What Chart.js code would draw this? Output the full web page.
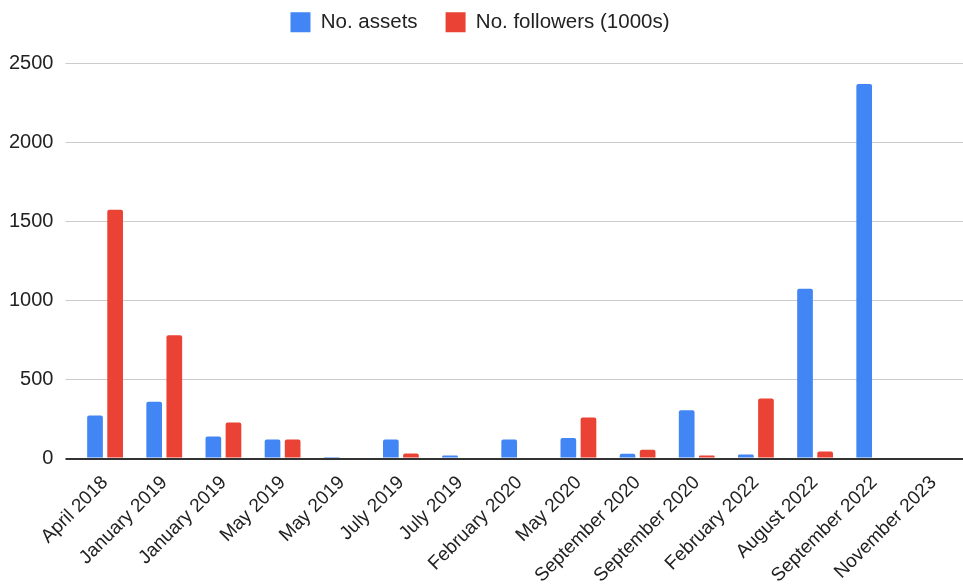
<!DOCTYPE html>
<html>
<head>
<meta charset="utf-8">
<script src="https://cdn.jsdelivr.net/npm/chart.js@4"></script>
<style>
  html, body { margin: 0; padding: 0; background: #fff; }
  #wrap { width: 963px; height: 586px; position: relative; }
</style>
</head>
<body>
<div id="wrap"><canvas id="grafico"></canvas></div>
<script>
// Dados
const categorias = [
    'April 2018', 'January 2019', 'January 2019', 'May 2019', 'May 2019',
    'July 2019', 'July 2019', 'February 2020', 'May 2020', 'September 2020',
    'September 2020', 'February 2022', 'August 2022', 'September 2022', 'November 2023'
];
const assets = [273, 360, 140, 120, 10, 120, 20, 120, 130, 30, 305, 25, 1075, 2370, 0];
const seguidores = [1575, 780, 228, 120, 0, 32, 0, 0, 260, 55, 20, 380, 45, 0, 0];
const ticksY = [0, 500, 1000, 1500, 2000, 2500];

const fonte = "'Liberation Sans', Arial, Helvetica, sans-serif";

// Espaço extra entre a legenda e o gráfico
const espacoLegenda = {
    id: 'espacoLegenda',
    beforeInit(chart) {
        const fitOriginal = chart.legend.fit;
        chart.legend.fit = function () {
            fitOriginal.bind(chart.legend)();
            this.height += 21;
        };
    }
};

function gerarGrafico() {
    const ctx = document.getElementById('grafico').getContext('2d');

    new Chart(ctx, {
        type: 'bar',
        data: {
            labels: categorias,
            datasets: [{
                label: 'No. assets',
                data: assets,
                backgroundColor: '#4285F4',
                borderRadius: 2,
                borderSkipped: 'start'
            }, {
                label: 'No. followers (1000s)',
                data: seguidores,
                backgroundColor: '#EA4335',
                borderRadius: 2,
                borderSkipped: 'start'
            }]
        },
        options: {
            responsive: true,
            maintainAspectRatio: false,
            animation: false,
            categoryPercentage: 0.68,
            barPercentage: 0.78,
            layout: { padding: { top: -16, right: 0, bottom: -6, left: -3 } },
            scales: {
                y: {
                    min: 0,
                    max: 2500,
                    afterBuildTicks: axis => {
                        axis.ticks = ticksY.map(v => ({ value: v }));
                    },
                    border: { display: false },
                    grid: {
                        tickLength: 10,
                        color: c => (c.tick && c.tick.value === 0) ? '#333333' : '#cccccc',
                        lineWidth: c => (c.tick && c.tick.value === 0) ? 2 : 1
                    },
                    ticks: {
                        color: '#222',
                        padding: 12,
                        font: { family: fonte, size: 20 },
                        callback: v => String(v)
                    }
                },
                x: {
                    border: { display: false },
                    grid: { display: false },
                    ticks: {
                        color: '#222',
                        minRotation: 45,
                        maxRotation: 45,
                        autoSkip: false,
                        padding: 5,
                        font: { family: fonte, size: 19 }
                    }
                }
            },
            plugins: {
                legend: {
                    position: 'top',
                    labels: {
                        color: '#222',
                        boxWidth: 20,
                        boxHeight: 20,
                        padding: 28,
                        font: { family: fonte, size: 20.5 }
                    }
                },
                tooltip: { enabled: false }
            }
        },
        plugins: [espacoLegenda]
    });
}

document.addEventListener('DOMContentLoaded', gerarGrafico);
</script>
</body>
</html>
